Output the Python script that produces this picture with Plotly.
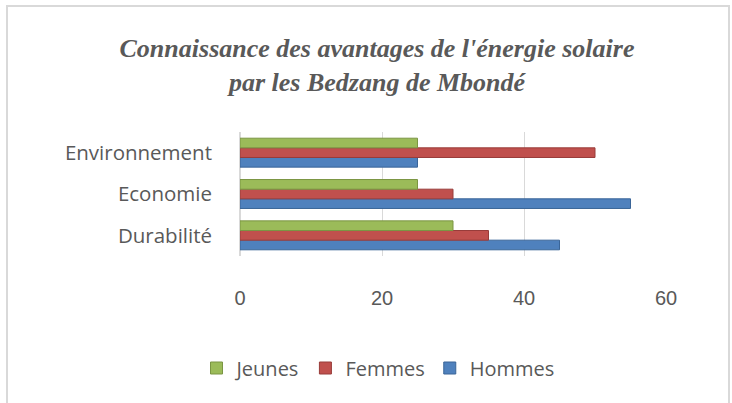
import plotly.graph_objects as go

categories = ["Durabilité", "Economie", "Environnement"]
hommes = [45, 55, 25]
femmes = [35, 30, 50]
jeunes = [30, 25, 25]
x_ticks = [0, 20, 40, 60]

W, H = 732, 403
L, R, T, B = 240, 66, 132, 147
pw, ph = W - L - R, H - T - B

def px(xp):
    return (xp - L) / pw

def py(yp):
    return (H - B - yp) / ph

fig = go.Figure()
series = [("Hommes", hommes, "#4F81BD", "#3A6598"),
          ("Femmes", femmes, "#C0504D", "#983C3A"),
          ("Jeunes", jeunes, "#9BBB59", "#7A9543")]
for name, vals, col, edge in series:
    fig.add_trace(go.Bar(y=categories, x=vals, name=name, orientation="h",
                         marker=dict(color=col, line=dict(color=edge, width=1))))

fig.update_layout(
    width=W, height=H,
    margin=dict(l=L, r=R, t=T, b=B),
    paper_bgcolor="white", plot_bgcolor="white",
    barmode="group", bargap=0.30, bargroupgap=0,
    title=dict(text="Connaissance des avantages de l'énergie solaire<br>par les Bedzang de Mbondé",
               x=377 / W, xanchor="center", y=1 - 57 / H, yanchor="middle",
               font=dict(family="Liberation Serif", size=26, color="#595959",
                         style="italic", weight="bold")),
    font=dict(family="Open Sans", color="#595959"),
    legend=dict(orientation="h", traceorder="reversed", x=px(378), xanchor="center",
                y=py(368), yanchor="middle", font=dict(size=20, color="#595959"),
                itemwidth=30),
    showlegend=True,
)
fig.update_xaxes(range=[0, 60], tickvals=x_ticks, showgrid=True, gridcolor="#D9D9D9",
                 gridwidth=1, zeroline=True, zerolinecolor="#D9D9D9", showline=False,
                 ticklabelstandoff=28, tickfont=dict(size=20, color="#595959",
                                                     family="Liberation Sans"))
fig.update_yaxes(showgrid=False, showline=False, ticklabelstandoff=27,
                 tickfont=dict(size=20.5, color="#595959"))

fig.add_shape(type="rect", xref="paper", yref="paper",
              x0=px(7), x1=px(729), y0=py(6), y1=py(410),
              line=dict(color="#D9D9D9", width=2), fillcolor="rgba(0,0,0,0)", layer="below")

fig.write_html("out.html", config={"displayModeBar": False},
               post_script="document.body.style.margin='0';document.body.style.overflow='hidden';")
